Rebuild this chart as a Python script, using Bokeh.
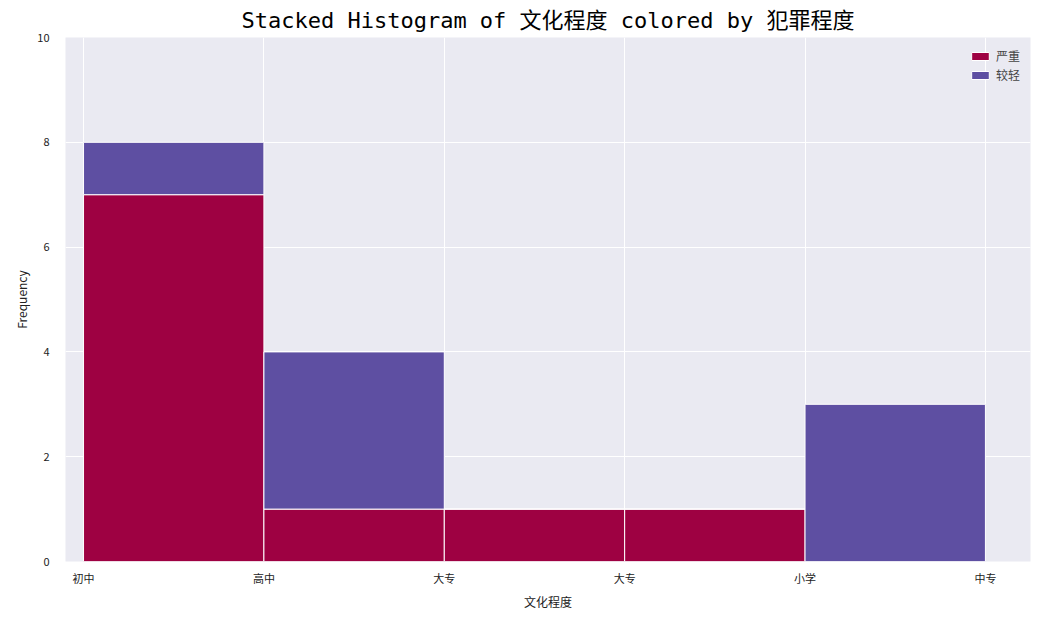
from bokeh.plotting import figure
from bokeh.models import FixedTicker, Range1d
from bokeh.embed import file_html
from bokeh.resources import INLINE

categories = ["初中", "高中", "大专", "大专", "小学", "中专"]
bin_left = [0, 1, 2, 3, 4]
bin_right = [1, 2, 3, 4, 5]
severe = [7, 1, 1, 1, 0]
light = [1, 3, 0, 0, 3]

CJK = "Noto Sans CJK SC"
p = figure(width=1036, height=612, output_backend="svg", toolbar_location=None,
           x_range=Range1d(-0.1, 5.25), y_range=Range1d(0, 10),
           min_border_left=65, min_border_right=6, min_border_top=25, min_border_bottom=30,
           title="Stacked Histogram of 文化程度 colored by 犯罪程度")
p.title.text_font = "DejaVu Sans Mono, " + CJK
p.title.text_font_size = "22px"
p.title.text_font_style = "normal"
p.title.text_color = "black"
p.title.align = "center"
p.background_fill_color = "#eaeaf2"
p.outline_line_color = None
p.border_fill_color = "white"

tops = [s + l for s, l in zip(severe, light)]
p.quad(left=bin_left, right=bin_right, bottom=[0] * 5, top=severe,
       fill_color="#9e0142", line_color="white", line_width=1, legend_label="严重")
p.quad(left=bin_left, right=bin_right, bottom=severe, top=tops,
       fill_color="#5e4fa2", line_color="white", line_width=1, legend_label="较轻")

p.xaxis.ticker = FixedTicker(ticks=list(range(6)))
p.xaxis.major_label_overrides = {i: c for i, c in enumerate(categories)}
p.yaxis.ticker = FixedTicker(ticks=[0, 2, 4, 6, 8, 10])
p.xaxis.axis_label = "文化程度"
p.yaxis.axis_label = "Frequency"
for ax in (p.xaxis, p.yaxis):
    ax.axis_line_color = None
    ax.major_tick_line_color = None
    ax.minor_tick_line_color = None
    ax.major_tick_in = 0
    ax.major_tick_out = 0
    ax.major_label_standoff = 8
    ax.axis_label_standoff = 4
    ax.major_label_text_font = CJK
    ax.major_label_text_font_size = "11px"
    ax.axis_label_text_font = CJK
    ax.axis_label_text_font_size = "12px"
    ax.axis_label_text_font_style = "normal"
    ax.major_label_text_color = "#222222"
    ax.axis_label_text_color = "#222222"
p.yaxis.major_label_standoff = 16
p.xgrid.ticker = FixedTicker(ticks=list(range(6)))
p.grid.grid_line_color = "white"
p.grid.grid_line_width = 1

p.legend.location = "top_right"
p.legend.background_fill_alpha = 0
p.legend.border_line_color = None
p.legend.label_text_font = CJK
p.legend.label_text_font_size = "12px"
p.legend.glyph_height = 10
p.legend.glyph_width = 22
p.legend.spacing = 2
p.legend.label_height = 12

open("out.html", "w").write(file_html(p, INLINE))
